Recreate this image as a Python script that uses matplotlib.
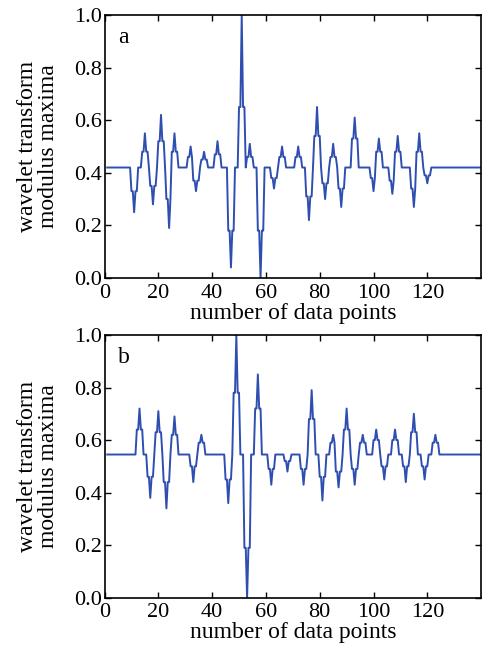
import matplotlib
matplotlib.use("Agg")
import matplotlib.pyplot as plt
import numpy as np

plt.rcParams["font.family"] = ["Liberation Serif", "DejaVu Serif"]

# panel a: modulus maxima events (position, extreme value, shoulder value)
a_baseline = 0.42
a_pos = [11, 15, 18, 21, 24, 26, 32, 34, 37, 42, 47, 51, 54, 58, 63, 66, 72,
         76, 79, 82, 85, 88, 93, 100, 102, 107, 109, 115, 117, 120]
a_peak = [0.25, 0.55, 0.28, 0.62, 0.19, 0.55, 0.50, 0.33, 0.48, 0.52, 0.04, 1.00,
          0.51, 0.00, 0.34, 0.50, 0.50, 0.22, 0.65, 0.30, 0.51, 0.27, 0.61, 0.33,
          0.53, 0.32, 0.54, 0.27, 0.55, 0.36]
a_shoulder = [0.33, 0.48, 0.35, 0.52, 0.30, 0.48, 0.46, 0.37, 0.45, 0.47, 0.18, 0.65,
              0.46, 0.18, 0.38, 0.46, 0.46, 0.31, 0.54, 0.36, 0.46, 0.34, 0.53, 0.38,
              0.48, 0.37, 0.48, 0.34, 0.48, 0.39]

# panel b
b_baseline = 0.545
b_pos = [13, 17, 20, 23, 26, 33, 36, 46, 49, 53, 57, 62, 68, 74, 77, 81, 85, 87,
         90, 93, 96, 101, 104, 108, 112, 115, 119, 123]
b_peak = [0.72, 0.38, 0.71, 0.34, 0.69, 0.44, 0.62, 0.36, 1.00, 0.00, 0.85, 0.43,
          0.48, 0.43, 0.79, 0.37, 0.62, 0.42, 0.72, 0.43, 0.62, 0.64, 0.45, 0.64,
          0.44, 0.70, 0.45, 0.62]
b_shoulder = [0.64, 0.46, 0.63, 0.44, 0.62, 0.50, 0.59, 0.45, 0.78, 0.19, 0.72, 0.49,
              0.52, 0.49, 0.68, 0.46, 0.59, 0.48, 0.64, 0.49, 0.59, 0.60, 0.50, 0.60,
              0.50, 0.63, 0.50, 0.59]

x_ticks = [0, 20, 40, 60, 80, 100, 120]
y_ticks = [0.0, 0.2, 0.4, 0.6, 0.8, 1.0]

LINE_COLOR = "#2f4fb0"
STEP = 0.5  # sampling interval of the plotted signal


def build_signal(baseline, pos, peak, shoulder, x_end=140):
    x = np.arange(1, x_end + STEP, STEP)
    y = np.full(len(x), baseline)
    idx = lambda v: int(round((v - 1) / STEP))
    for p, s in zip(pos, shoulder):
        for off in (-1.0, -0.5, 0.5, 1.0):
            y[idx(p + off)] = s
    for p, v in zip(pos, peak):
        y[idx(p)] = v
    return x, y


def draw_panel(ax, signal, label):
    x, y = signal
    ax.plot(x, y, color=LINE_COLOR, lw=1.4)
    ax.set_xlim(0, 140)
    ax.set_ylim(0, 1)
    ax.set_xticks(x_ticks)
    ax.set_yticks(y_ticks)
    ax.set_yticklabels([f"{t:.1f}" for t in y_ticks])
    ax.tick_params(direction="in", top=True, right=True, length=4, width=1,
                   labelsize=16, pad=2)
    ax.tick_params(axis="x", pad=4)
    for sp in ax.spines.values():
        sp.set_linewidth(1.2)
    ax.set_xlabel("number of data points", fontsize=17, labelpad=0)
    ax.set_ylabel("wavelet transform\nmodulus maxima", fontsize=17,
                  linespacing=0.95, labelpad=11)
    ax.text(0.035, 0.955, label, transform=ax.transAxes, fontsize=17,
            va="top", ha="left")


fig = plt.figure(figsize=(4.84, 6.53), dpi=100)
ax_a = fig.add_axes([0.216, 0.5743, 0.778, 0.4028])
ax_b = fig.add_axes([0.216, 0.0847, 0.778, 0.4023])

draw_panel(ax_a, build_signal(a_baseline, a_pos, a_peak, a_shoulder), "a")
draw_panel(ax_b, build_signal(b_baseline, b_pos, b_peak, b_shoulder), "b")

fig.savefig("out.png", dpi=100)
